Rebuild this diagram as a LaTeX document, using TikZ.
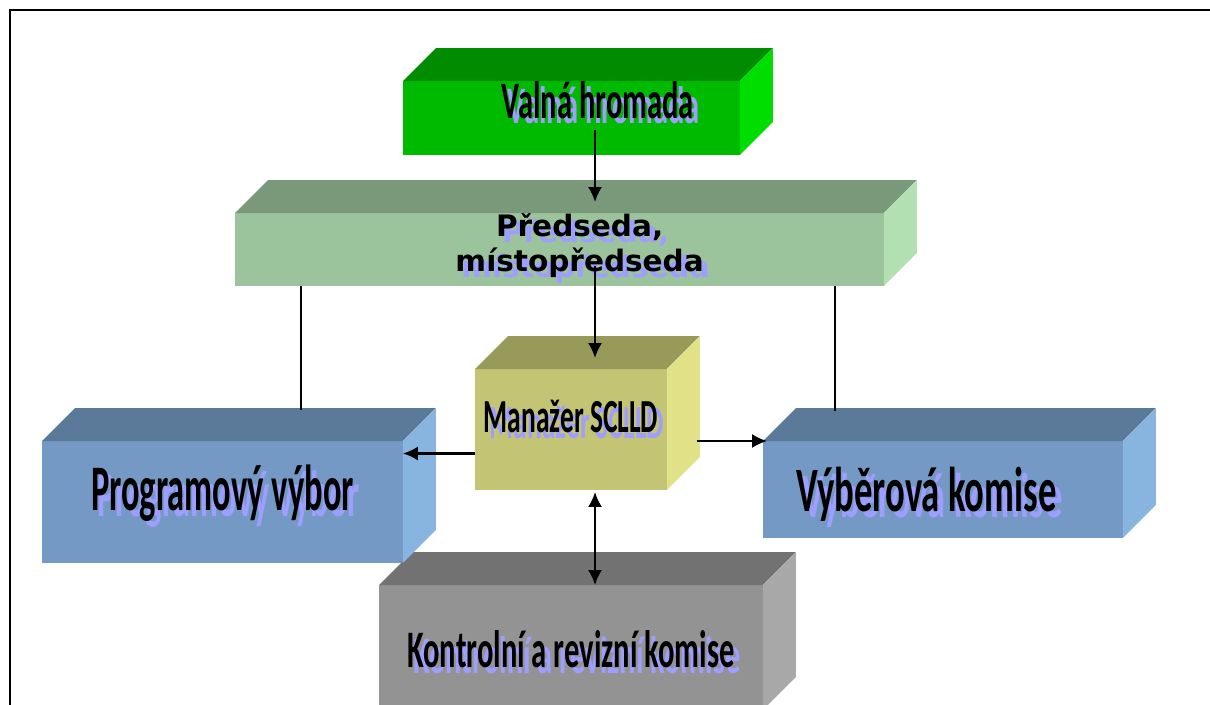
\documentclass[tikz,border=0pt]{standalone}
\usepackage{fontspec}
\setmainfont{Carlito}
\newfontfamily\narrowfont[FakeStretch=0.58]{Carlito}
\newfontfamily\narrowerfont[FakeStretch=0.53]{Carlito}
\newfontfamily\wideboldfont{DejaVu Sans}
\usetikzlibrary{calc,arrows.meta}
\definecolor{lav}{RGB}{158,158,255}
\definecolor{greenfront}{RGB}{0,186,0}
\definecolor{greentop}{RGB}{0,140,0}
\definecolor{greenside}{RGB}{0,222,0}
\definecolor{sagefront}{RGB}{156,196,156}
\definecolor{sagetop}{RGB}{122,152,122}
\definecolor{sageside}{RGB}{178,224,178}
\definecolor{olivefront}{RGB}{196,196,117}
\definecolor{olivetop}{RGB}{153,153,90}
\definecolor{oliveside}{RGB}{225,225,135}
\definecolor{bluefront}{RGB}{116,153,196}
\definecolor{bluetop}{RGB}{91,122,153}
\definecolor{blueside}{RGB}{136,180,224}
\definecolor{grayfront}{RGB}{147,147,147}
\definecolor{graytop}{RGB}{114,114,114}
\definecolor{grayside}{RGB}{168,168,168}
\newcommand\shd[1]{\rlap{\kern3.4pt\raisebox{-3.4pt}{\textcolor{lav}{#1}}}#1}

\begin{document}
\begin{tikzpicture}[x=0.02cm,y=-0.02cm,>={Latex[length=8.5pt,width=8pt]},
    cube/.style={anchor=north west,inner sep=0pt,outer sep=0pt,align=center,text depth=0pt},
    midtext/.style={font=\narrowfont\bfseries\fontsize{30}{33}\selectfont},
    link/.style={line width=1.3pt}]
\useasboundingbox (0,0) rectangle (1210,704);
\draw[line width=1.1pt] (10,720) -- (10,10) -- (1220,10);

\node[cube,midtext,fill=grayfront,minimum width=7.68cm,minimum height=2.5cm,text height=23pt] (kontrol) at (379,585) {\shd{Kontrolní a revizní komise}};
\node[cube,midtext,fill=greenfront,minimum width=6.74cm,minimum height=1.48cm,text height=0pt] (valna) at (403,81) {\hspace*{30pt}\shd{Valná hromada}};
\node[cube,fill=sagefront,minimum width=12.98cm,minimum height=1.46cm,text depth=8pt,font=\wideboldfont\bfseries\fontsize{16.8}{20}\selectfont] (predseda) at (235,213) {\hspace*{23pt}\shd{Předseda,}\\\hspace*{23pt}\shd{místopředseda}};
\node[cube,font=\narrowfont\bfseries\fontsize{27}{30}\selectfont,fill=olivefront,minimum width=3.84cm,minimum height=2.42cm,text height=3pt] (manazer) at (475,369) {\shd{Manažer SCLLD}};
\node[cube,font=\narrowerfont\bfseries\fontsize{37}{40}\selectfont,fill=bluefront,minimum width=7.22cm,minimum height=2.44cm,text height=10pt] (program) at (42,441) {\shd{Programový výbor}};
\node[cube,font=\narrowfont\bfseries\fontsize{36}{40}\selectfont,fill=bluefront,minimum width=7.2cm,minimum height=1.94cm,text height=25pt] (vyber) at (763,441) {\shd{Výběrová komise}\hspace*{19pt}};

\foreach \n/\col in {kontrol/gray,valna/green,predseda/sage,manazer/olive,program/blue,vyber/blue}
{
  \fill[\col top] (\n.north west) -- ++(33,-33) -- ($(\n.north east)+(33,-33)$) -- (\n.north east) -- cycle;
  \fill[\col side] (\n.north east) -- ++(33,-33) -- ($(\n.south east)+(33,-33)$) -- (\n.south east) -- cycle;
}

\coordinate (axis) at (595,0);
\coordinate (leftline) at (301,0);
\coordinate (rightline) at (835,0);
\coordinate (m2) at ($(manazer.east)+(30,0)$);
\draw[link,->] ($(valna.south -| axis)+(0,-25)$) -- ($(predseda.north -| axis)+(0,-11)$);
\draw[link,->] ($(predseda.south -| axis)+(0,-20)$) -- ($(manazer.north -| axis)+(0,-11)$);
\draw[link] (predseda.south -| leftline) -- ($(program.north -| leftline)+(0,-31)$);
\draw[link] (predseda.south -| rightline) -- ($(vyber.north -| rightline)+(0,-30)$);
\draw[link,->] ($(manazer.west)+(0,24)$) coordinate (m1) -- (m1 -| program.east);
\draw[link,->] (m2 |- vyber.north) -- ($(vyber.north west)+(4,0)$);
\draw[link,<->] ($(manazer.south -| axis)+(0,2)$) -- (kontrol.north -| axis);
\end{tikzpicture}
\end{document}
